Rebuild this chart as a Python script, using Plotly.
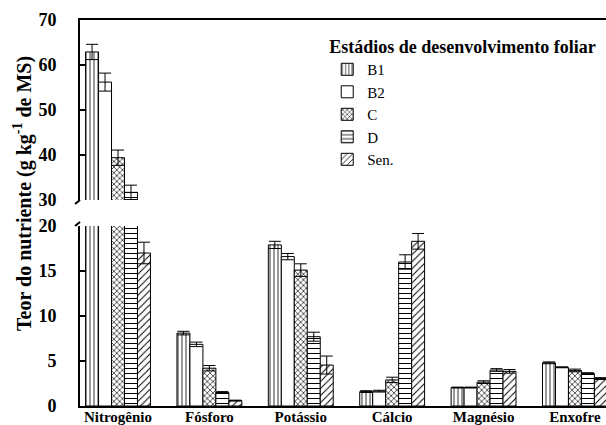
import plotly.graph_objects as go

categories = ["Nitrogênio", "Fósforo", "Potássio", "Cálcio", "Magnésio", "Enxofre"]
series_names = ["B1", "B2", "C", "D", "Sen."]
B1 = [62.9, 8.1, 17.9, 1.6, 2.05, 4.8]
B1_err = [1.7, 0.2, 0.4, 0.1, 0.05, 0.1]
B2 = [56.2, 6.85, 16.6, 1.65, 2.05, 4.3]
B2_err = [2.0, 0.25, 0.35, 0.1, 0.05, 0.05]
C = [39.4, 4.2, 15.1, 2.9, 2.65, 3.95]
C_err = [1.7, 0.3, 0.7, 0.3, 0.15, 0.15]
D = [31.7, 1.5, 7.7, 16.0, 4.0, 3.6]
D_err = [1.6, 0.1, 0.5, 0.8, 0.15, 0.1]
Sen = [17.0, 0.6, 4.55, 18.3, 3.85, 3.05]
Sen_err = [1.2, 0.05, 1.0, 0.87, 0.2, 0.1]
lower_ticks = [0, 5, 10, 15, 20]
upper_ticks = [30, 40, 50, 60, 70]

values = [B1, B2, C, D, Sen]
errors = [B1_err, B2_err, C_err, D_err, Sen_err]
patterns = [
    dict(shape="|", size=4, solidity=0.2),
    dict(shape="", size=4, solidity=0.2),
    dict(shape="x", size=4, solidity=0.3),
    dict(shape="-", size=5, solidity=0.2),
    dict(shape="/", size=5, solidity=0.2),
]

SERIF = "Liberation Serif, Times New Roman, serif"
fig = go.Figure()
for panel, (xa, ya) in enumerate([("x", "y"), ("x2", "y2")]):
    for name, vals, errs, pat in zip(series_names, values, errors, patterns):
        fig.add_trace(go.Bar(
            x=categories, y=vals, name=name, xaxis=xa, yaxis=ya,
            showlegend=(panel == 0),
            marker=dict(color="white", line=dict(color="black", width=1),
                        pattern=dict(shape=pat["shape"], size=pat["size"],
                                     solidity=pat["solidity"], fgcolor="black",
                                     bgcolor="white", fillmode="replace")),
            error_y=dict(type="data", array=errs, visible=True, color="black",
                         thickness=1, width=6),
        ))

lower_top = 180 / 386
upper_bot = 206 / 386
xr = [-0.416, 5.34]
tickfont = dict(size=18, family=SERIF, weight="bold", color="black")
fig.update_layout(
    width=606, height=425,
    margin=dict(l=80, r=0, t=20, b=19, autoexpand=False),
    paper_bgcolor="white", plot_bgcolor="white",
    barmode="group", bargap=0.29, bargroupgap=0,
    font=dict(family=SERIF, color="black", size=15),
    xaxis=dict(type="category", range=xr, domain=[0, 1], anchor="y", automargin=False,
               showline=True, linecolor="black", linewidth=2, ticks="",
               ticklabelstandoff=-4,
               showgrid=False, tickfont=dict(size=15, family=SERIF, weight="bold", color="black")),
    xaxis2=dict(type="category", range=xr, domain=[0, 1], anchor="y2", matches="x",
                automargin=False, side="top", showline=True, linecolor="black", linewidth=2,
                ticks="", showgrid=False, showticklabels=False),
    yaxis=dict(domain=[0, lower_top], range=[0, 20], tickvals=lower_ticks, automargin=False,
               showline=True, linecolor="black", linewidth=2, ticks="inside",
               ticklen=6, tickwidth=2, tickcolor="black", showgrid=False, zeroline=False,
               ticklabelstandoff=18, tickfont=tickfont),
    yaxis2=dict(domain=[upper_bot, 1], range=[30, 70], tickvals=upper_ticks, automargin=False,
                showline=True, linecolor="black", linewidth=2, ticks="inside",
                ticklen=6, tickwidth=2, tickcolor="black", showgrid=False, zeroline=False,
                ticklabelstandoff=18, tickfont=tickfont),
    legend=dict(x=0.47, y=0.975, xanchor="left", yanchor="top",
                bgcolor="rgba(0,0,0,0)", font=dict(size=15, family=SERIF, color="black"),
                title=dict(text="<b>Estádios de desenvolvimento foliar</b>",
                           font=dict(size=18, family=SERIF, color="black"), side="top"),
                tracegroupgap=0, itemclick=False),
)

fig.add_annotation(
    text="<b>Teor do nutriente (g kg<sup>-1</sup> de MS)</b>",
    xref="paper", yref="paper", x=-0.108, y=0.55, xanchor="center", yanchor="middle",
    textangle=-90, showarrow=False, font=dict(size=20, family=SERIF, color="black"),
)

# axis-break marks
fig.add_shape(type="line", xref="paper", yref="paper",
              xsizemode="pixel", ysizemode="pixel", xanchor=0, yanchor=upper_bot,
              x0=-5, x1=0, y0=-4, y1=0, line=dict(color="black", width=2))
fig.add_shape(type="line", xref="paper", yref="paper",
              xsizemode="pixel", ysizemode="pixel", xanchor=0, yanchor=lower_top,
              x0=-5, x1=0, y0=0, y1=4, line=dict(color="black", width=2))

fig.write_html("out.html", config={"displayModeBar": False},
               post_script="document.body.style.margin='0';document.body.style.overflow='hidden';")
